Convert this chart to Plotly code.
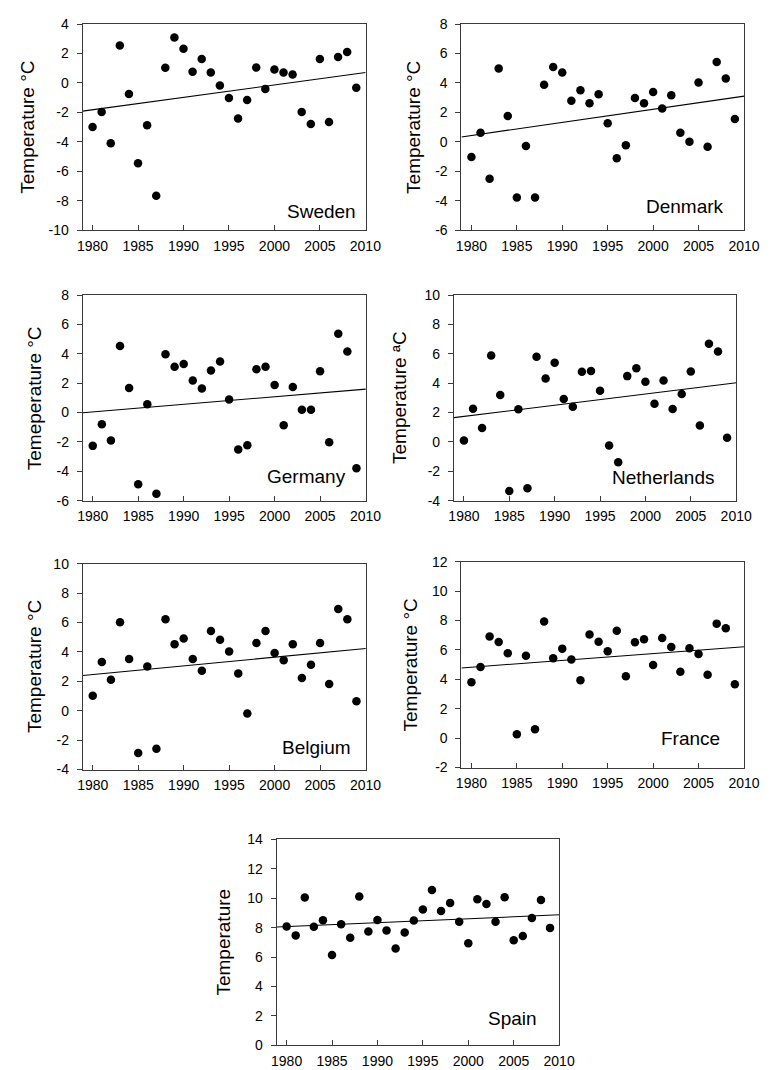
import numpy as np
import plotly.graph_objects as go

years = list(range(1980, 2010))

sweden = [-3.0, -1.98, -4.1, 2.55, -0.75, -5.46, -2.87, -7.67, 1.03, 3.1,
          2.33, 0.76, 1.63, 0.72, -0.17, -1.02, -2.41, -1.16, 1.05, -0.40,
          0.92, 0.72, 0.58, -1.98, -2.79, 1.63, -2.65, 1.77, 2.1, -0.33]
denmark = [-1.03, 0.61, -2.51, 4.98, 1.75, -3.78, -0.29, -3.78, 3.88, 5.09,
           4.71, 2.80, 3.50, 2.62, 3.23, 1.26, -1.12, -0.24, 2.98, 2.62,
           3.39, 2.27, 3.16, 0.61, 0.0, 4.03, -0.33, 5.42, 4.30, 1.55]
germany = [-2.27, -0.79, -1.91, 4.53, 1.67, -4.88, 0.57, -5.53, 3.97, 3.12,
           3.30, 2.18, 1.63, 2.86, 3.48, 0.89, -2.51, -2.22, 2.95, 3.12,
           1.87, -0.86, 1.74, 0.19, 0.19, 2.81, -2.02, 5.36, 4.15, -3.79]
netherlands = [0.09, 2.26, 0.94, 5.88, 3.20, -3.35, 2.22, -3.15, 5.80, 4.32,
               5.39, 2.93, 2.40, 4.77, 4.83, 3.49, -0.24, -1.38, 4.48, 5.01,
               4.10, 2.60, 4.18, 2.24, 3.27, 4.79, 1.12, 6.69, 6.15, 0.29]
belgium = [1.02, 3.32, 2.11, 6.02, 3.52, -2.87, 3.01, -2.58, 6.22, 4.53,
           4.91, 3.52, 2.72, 5.42, 4.82, 4.03, 2.54, -0.19, 4.61, 5.42,
           3.92, 3.43, 4.53, 2.22, 3.12, 4.61, 1.82, 6.92, 6.22, 0.64]
france = [3.81, 4.84, 6.92, 6.54, 5.78, 0.27, 5.60, 0.61, 7.93, 5.44,
          6.09, 5.35, 3.94, 7.05, 6.56, 5.91, 7.30, 4.21, 6.52, 6.72,
          4.97, 6.81, 6.20, 4.52, 6.11, 5.73, 4.32, 7.79, 7.48, 3.67]
spain = [8.08, 7.48, 10.05, 8.06, 8.51, 6.14, 8.24, 7.32, 10.12, 7.75,
         8.53, 7.82, 6.59, 7.68, 8.49, 9.24, 10.56, 9.13, 9.69, 8.40,
         6.94, 9.94, 9.62, 8.40, 10.07, 7.15, 7.44, 8.66, 9.89, 7.99]

x_ticks = [1980, 1985, 1990, 1995, 2000, 2005, 2010]
x_ticktext = ["1980", "1985", "1990", "1995", "2000", "2005", "2010"]

# name, values, y-axis title, y ticks
panels = [
    ("Sweden", sweden, "Temperature °C", [-10, -8, -6, -4, -2, 0, 2, 4]),
    ("Denmark", denmark, "Temperature °C", [-6, -4, -2, 0, 2, 4, 6, 8]),
    ("Germany", germany, "Temeperature °C", [-6, -4, -2, 0, 2, 4, 6, 8]),
    ("Netherlands", netherlands, "Temperature ªC", [-4, -2, 0, 2, 4, 6, 8, 10]),
    ("Belgium", belgium, "Temperature °C", [-4, -2, 0, 2, 4, 6, 8, 10]),
    ("France", france, "Temperature °C", [-2, 0, 2, 4, 6, 8, 10, 12]),
    ("Spain", spain, "Temperature", [0, 2, 4, 6, 8, 10, 12, 14]),
]

# layout geometry in pixels: plot box (x0, x1, y0_top, y1_bottom), title center x, label right x, label center y
W, H = 771, 1070
geom = [
    ((71.5, 362.5, 8.3, 217.3), 14, 355, 198),
    ((461, 751.7, 8.3, 217.3), 411, 733, 193),
    ((71.7, 362.7, 283.3, 492), 22, 344, 467),
    ((453.3, 743.7, 283.3, 492), 398, 723, 469),
    ((71.7, 362.7, 556, 765), 22, 350, 743),
    ((461, 751.7, 554, 763), 409, 729, 733),
    ((271, 561.7, 836, 1045), 216, 541, 1018),
]

XMIN, XMAX = 1978.9, 2010.03
FONT = "Liberation Sans, Arial, sans-serif"
AXCOL = "#3a3a3a"

fig = go.Figure()
annotations = []
layout = dict(
    width=W, height=H,
    margin=dict(l=0, r=0, t=0, b=0),
    paper_bgcolor="white", plot_bgcolor="white",
    showlegend=False,
    font=dict(family=FONT, size=14, color="black"),
)

for i, ((name, vals, ytitle, yticks), (box, tcx, lrx, lcy)) in enumerate(zip(panels, geom)):
    k = "" if i == 0 else str(i + 1)
    xa, ya = "x" + k, "y" + k
    fig.add_trace(go.Scatter(
        x=years, y=vals, mode="markers",
        marker=dict(color="black", size=8.5, line=dict(width=0)),
        xaxis=xa, yaxis=ya, hoverinfo="x+y"))
    slope, icpt = np.polyfit(years, vals, 1)
    tx = [XMIN, XMAX]
    fig.add_trace(go.Scatter(
        x=tx, y=[slope * t + icpt for t in tx], mode="lines",
        line=dict(color="black", width=1.1),
        xaxis=xa, yaxis=ya, hoverinfo="skip"))
    x0, x1, y0, y1 = box
    layout["xaxis" + k] = dict(
        domain=[x0 / W, x1 / W], anchor=ya, range=[XMIN, XMAX],
        tickvals=x_ticks, ticktext=x_ticktext, ticks="inside", ticklen=5,
        tickcolor=AXCOL, tickwidth=1, ticklabelstandoff=3,
        showline=True, linecolor=AXCOL,
        linewidth=1, mirror=True, showgrid=False, zeroline=False,
        tickfont=dict(size=14, family=FONT, color="black"))
    layout["yaxis" + k] = dict(
        domain=[1 - y1 / H, 1 - y0 / H], anchor=xa,
        range=[yticks[0], yticks[-1]],
        tickvals=yticks, ticktext=[str(v) for v in yticks],
        ticks="outside", ticklen=5, tickcolor=AXCOL, tickwidth=1,
        ticklabelstandoff=5,
        showline=True, linecolor=AXCOL, linewidth=1, mirror=True,
        showgrid=False, zeroline=False,
        tickfont=dict(size=14, family=FONT, color="black"))
    annotations.append(dict(
        text=ytitle, xref="paper", yref="paper", x=tcx / W,
        y=1 - (y0 + y1) / 2 / H, xanchor="center", yanchor="middle",
        textangle=-90, showarrow=False,
        font=dict(size=19, family=FONT, color="black")))
    annotations.append(dict(
        text=name, xref="paper", yref="paper", x=lrx / W, y=1 - lcy / H,
        xanchor="right", yanchor="middle", showarrow=False,
        font=dict(size=19, family=FONT, color="black")))

layout["annotations"] = annotations
fig.update_layout(**layout)
fig.write_html("out.html")
